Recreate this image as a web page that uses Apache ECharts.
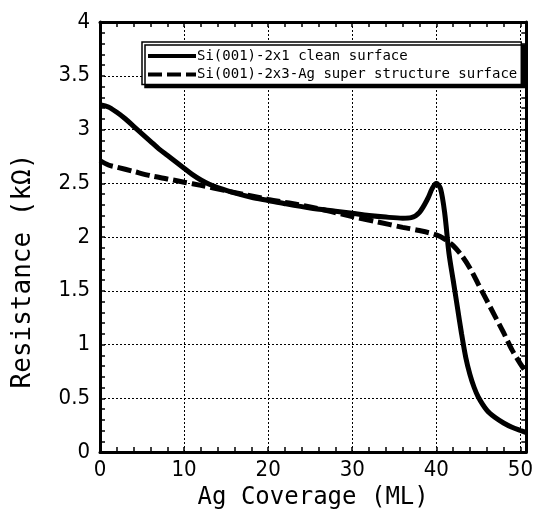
<!DOCTYPE html>
<html><head><meta charset="utf-8">
<script src="https://cdn.jsdelivr.net/npm/echarts@6/dist/echarts.min.js"></script>
<style>html,body{margin:0;padding:0;background:#fff}#c{width:536px;height:515px}</style>
</head><body><div id="c"></div>
<script>
// Series 1: Si(001)-2x1 clean surface
const cleanX = [0,1,2,3,4,5,6,7,8,9,10,11,12,13,14,16,18,20,22,25,28,30,32,34,36,37,38,39,39.5,40,40.5,41,41.5,42,42.5,43,43.5,44,44.5,45,46,47,48,49,50,50.7];
const cleanY = [3.23,3.21,3.16,3.1,3.03,2.96,2.89,2.82,2.76,2.7,2.64,2.58,2.53,2.49,2.46,2.41,2.37,2.34,2.31,2.27,2.24,2.22,2.2,2.185,2.175,2.18,2.23,2.36,2.45,2.5,2.45,2.22,1.85,1.6,1.35,1.1,0.88,0.72,0.6,0.51,0.39,0.32,0.27,0.23,0.2,0.18];
// Series 2: Si(001)-2x3-Ag super structure surface
const agX = [0,1,2,4,6,8,10,12,15,20,25,30,33,36,38,40,41,42,43,44,45,46,47,48,49,50,50.7];
const agY = [2.71,2.67,2.65,2.61,2.57,2.54,2.51,2.48,2.43,2.35,2.28,2.19,2.14,2.09,2.06,2.02,1.98,1.92,1.83,1.71,1.56,1.41,1.26,1.11,0.95,0.82,0.74];
const seriesNames = ['Si(001)-2x1 clean surface','Si(001)-2x3-Ag super structure surface'];
const xTicks = [0,10,20,30,40,50];
const yTicks = [0,0.5,1,1.5,2,2.5,3,3.5,4];
const xTitle = 'Ag Coverage (ML)';
const yTitle = 'Resistance (kΩ)';

const tickFont = "'Liberation Sans Narrow','DejaVu Sans Condensed',sans-serif";
const monoFont = "'DejaVu Sans Mono',monospace";
const chart = echarts.init(document.getElementById('c'));
const axLine = {show:true, onZero:false, lineStyle:{color:'#000', width:3}};
const tick = {show:true, inside:true, length:5, lineStyle:{color:'#000', width:1.5}};
const minor = {show:true, splitNumber:5, length:5, lineStyle:{color:'#000', width:1.5}};
const split = {show:true, lineStyle:{color:'#000', width:1, type:[2,2]}};
chart.setOption({
  animation:false,
  backgroundColor:'#fff',
  grid:{left:100, right:4, top:22, bottom:55},
  legend:{
    orient:'vertical', left:142, top:42, itemWidth:48, itemHeight:14, itemGap:4.5,
    padding:[7,4,3,4], borderColor:'#000', borderWidth:1.5, backgroundColor:'#fff',
    shadowColor:'#000', shadowBlur:0, shadowOffsetX:3, shadowOffsetY:3,
    itemStyle:{opacity:0},
    lineStyle:{width:4},
    textStyle:{fontFamily:monoFont, fontSize:14, color:'#000', padding:[0,0,0,-4]},
    data:seriesNames
  },
  xAxis:[{
    type:'value', position:'bottom', min:0, max:50.7, interval:10,
    axisLine:axLine, axisTick:tick, minorTick:minor, splitLine:split,
    axisLabel:{color:'#000', fontFamily:tickFont, fontSize:22, margin:7,
      formatter:v => xTicks.includes(v) ? String(v) : ''},
    name:xTitle, nameLocation:'middle', nameGap:34,
    nameTextStyle:{fontFamily:monoFont, fontSize:24, color:'#000'}
  },{
    type:'value', position:'top', min:0, max:50.7, interval:10,
    axisLine:axLine, axisTick:tick, minorTick:minor, splitLine:{show:false}, axisLabel:{show:false}
  }],
  yAxis:[{
    type:'value', position:'left', min:0, max:4, interval:0.5,
    axisLine:axLine, axisTick:tick, minorTick:minor, splitLine:split,
    axisLabel:{color:'#000', fontFamily:tickFont, fontSize:22, margin:10,
      formatter:v => yTicks.includes(v) ? String(v) : ''},
    name:yTitle, nameLocation:'middle', nameGap:64,
    nameTextStyle:{fontFamily:monoFont, fontSize:26, color:'#000', padding:[0,68,0,0]}
  },{
    type:'value', position:'right', min:0, max:4, interval:0.5,
    axisLine:axLine, axisTick:tick, minorTick:minor, splitLine:{show:false}, axisLabel:{show:false}
  }],
  series:[{
    name:seriesNames[0], type:'line', symbol:'none', smooth:0.3,
    lineStyle:{color:'#000', width:5},
    itemStyle:{color:'#000'},
    data:cleanX.map((x,i)=>[x,cleanY[i]])
  },{
    name:seriesNames[1], type:'line', symbol:'none', smooth:0.3,
    lineStyle:{color:'#000', width:5, type:[14,5]},
    itemStyle:{color:'#000'},
    data:agX.map((x,i)=>[x,agY[i]])
  }]
});
</script></body></html>
